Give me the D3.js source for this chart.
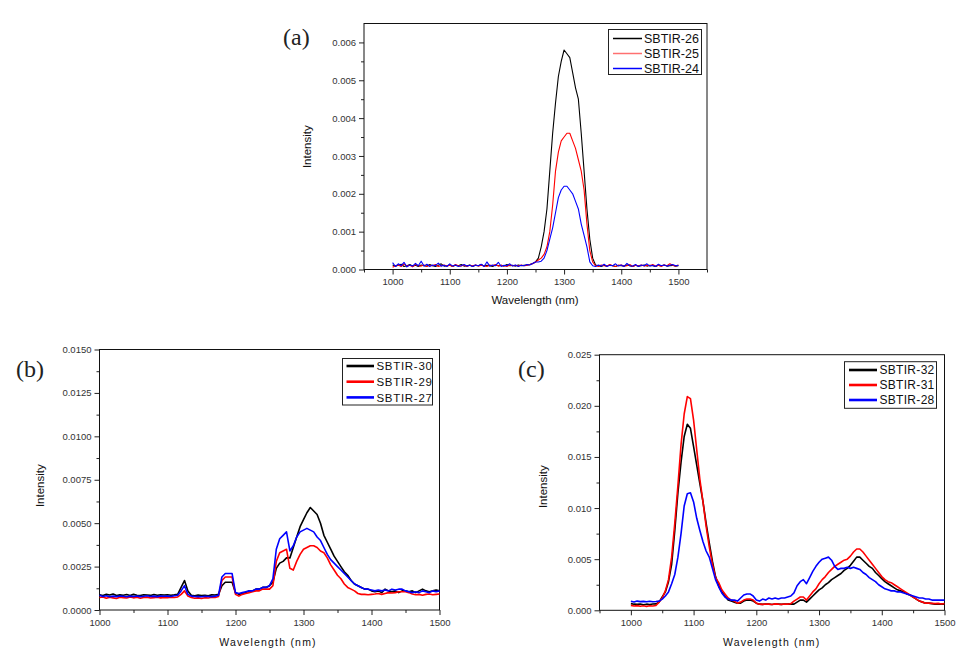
<!DOCTYPE html>
<html><head><meta charset="utf-8">
<script src="https://cdn.jsdelivr.net/npm/d3@7/dist/d3.min.js"></script>
<style>body{margin:0;background:#fff} svg{display:block}</style>
</head><body><svg id="chart" width="973" height="667"></svg>
<script>
// Wavelength sampling (nm), shared by every series
const wavelength = [1000,1005,1010,1015,1020,1025,1030,1035,1040,1045,
1050,1055,1060,1065,1070,1075,1080,1085,1090,1095,
1100,1105,1110,1115,1120,1125,1130,1135,1140,1145,
1150,1155,1160,1165,1170,1175,1180,1185,1190,1195,
1200,1205,1210,1215,1220,1225,1230,1235,1240,1245,
1250,1255,1260,1265,1270,1275,1280,1285,1290,1295,
1300,1305,1310,1315,1320,1325,1330,1335,1340,1345,
1350,1355,1360,1365,1370,1375,1380,1385,1390,1395,
1400,1405,1410,1415,1420,1425,1430,1435,1440,1445,
1450,1455,1460,1465,1470,1475,1480,1485,1490,1495,1500];

// ---- Panel (a) ----
const labelsA = ["SBTIR-26","SBTIR-25","SBTIR-24"];
const sbtir26 = [0.00012,0.00009,0.00011,0.00014,0.00008,0.00010,0.00013,0.00009,0.00011,0.00008,
0.00012,0.00010,0.00009,0.00013,0.00010,0.00008,0.00011,0.00015,0.00009,0.00010,
0.00012,0.00008,0.00011,0.00010,0.00013,0.00009,0.00010,0.00012,0.00008,0.00011,
0.00010,0.00013,0.00009,0.00011,0.00010,0.00008,0.00012,0.00010,0.00011,0.00009,
0.00013,0.00010,0.00011,0.00009,0.00012,0.00010,0.00011,0.00012,0.00013,0.00016,
0.0002,0.0003,0.0006,0.001,0.0016,0.0026,0.0036,0.0044,0.0051,0.0055,
0.0058,0.0057,0.0056,0.0052,0.0048,0.0045,0.0036,0.0026,0.0016,0.0008,
0.0003,0.00012,0.00010,0.00008,0.00011,0.00009,0.00012,0.00010,0.00008,0.00011,
0.00010,0.00009,0.00012,0.00010,0.00008,0.00011,0.00009,0.00010,0.00012,0.00009,
0.00011,0.00010,0.00008,0.00011,0.00010,0.00012,0.00009,0.00010,0.00011,0.00009,
0.00010];
const sbtir25 = [0.00006,0.00010,0.00012,0.00008,0.00015,0.00009,0.00011,0.00007,0.00013,0.00010,
0.00009,0.00012,0.00008,0.00011,0.00010,0.00013,0.00008,0.00010,0.00012,0.00009,
0.00011,0.00008,0.00013,0.00010,0.00009,0.00012,0.00008,0.00011,0.00010,0.00012,
0.00009,0.00011,0.00010,0.00008,0.00012,0.00010,0.00013,0.00009,0.00011,0.00010,
0.00008,0.00012,0.00010,0.00011,0.00009,0.00012,0.00010,0.00011,0.00013,0.00015,
0.0002,0.00025,0.0003,0.0004,0.0006,0.001,0.0017,0.0026,0.0031,0.0034,
0.0035,0.0036,0.0036,0.0034,0.0032,0.0029,0.0026,0.0021,0.0012,0.0005,
0.0002,0.0001,0.00008,0.00012,0.00010,0.00009,0.00013,0.00010,0.00008,0.00011,
0.00012,0.00009,0.00010,0.00013,0.00008,0.00011,0.00010,0.00012,0.00009,0.00011,
0.00010,0.00013,0.00009,0.00011,0.00008,0.00012,0.00010,0.00015,0.00011,0.00009,
0.00012];
const sbtir24 = [0.00018,0.00008,0.00015,0.00010,0.00019,0.00007,0.00012,0.00009,0.00016,0.00010,
0.00022,0.00009,0.00014,0.00008,0.00012,0.00010,0.00017,0.00009,0.00011,0.00008,
0.00015,0.00009,0.00012,0.00008,0.00010,0.00013,0.00009,0.00011,0.00008,0.00012,
0.00010,0.00014,0.00008,0.00020,0.00009,0.00012,0.00010,0.00019,0.00008,0.00011,
0.00010,0.00015,0.00009,0.00012,0.00008,0.00011,0.00010,0.00013,0.00012,0.00016,
0.0002,0.0002,0.00022,0.0003,0.0005,0.0008,0.0011,0.0015,0.0019,0.0021,
0.0022,0.0022,0.0021,0.0020,0.0018,0.0016,0.0012,0.0009,0.0006,0.0002,
0.0001,0.00008,0.00012,0.00009,0.00014,0.00008,0.00011,0.00010,0.00015,0.00009,
0.00012,0.00008,0.00016,0.00010,0.00009,0.00013,0.00008,0.00012,0.00010,0.00015,
0.00009,0.00011,0.00008,0.00014,0.00010,0.00012,0.00009,0.00011,0.00013,0.00010,
0.00011];
const yTicksA = [0,0.001,0.002,0.003,0.004,0.005,0.006];
const xTicksA = [1000,1100,1200,1300,1400,1500];

// ---- Panel (b) ----
const labelsB = ["SBTIR-30","SBTIR-29","SBTIR-27"];
const sbtir30 = [0.00088,0.00084,0.00090,0.00086,0.00092,0.00083,0.00087,0.00085,0.00089,0.00084,
0.00090,0.00085,0.00083,0.00088,0.00086,0.00084,0.00089,0.00085,0.00087,0.00086,
0.00088,0.00085,0.00087,0.00090,0.0013,0.0017,0.0011,0.00085,0.00082,0.00086,
0.00083,0.00085,0.00082,0.00087,0.00086,0.00090,0.0014,0.0016,0.0016,0.0016,
0.0010,0.0009,0.00095,0.0010,0.0011,0.0011,0.0012,0.0012,0.0013,0.0013,
0.0014,0.0016,0.0024,0.0027,0.0028,0.0030,0.0030,0.0036,0.0042,0.0048,
0.0052,0.0056,0.0059,0.0057,0.0055,0.0050,0.0043,0.0039,0.0035,0.0031,
0.0028,0.0025,0.0022,0.0020,0.0017,0.0015,0.0014,0.0013,0.0012,0.0012,
0.0011,0.00105,0.0011,0.0010,0.0012,0.0011,0.00105,0.0011,0.0010,0.0011,
0.0011,0.00105,0.0011,0.0010,0.0011,0.0012,0.0011,0.00105,0.0011,0.00115,
0.0011];
const sbtir29 = [0.00072,0.00075,0.00068,0.00074,0.00070,0.00066,0.00073,0.00071,0.00069,0.00075,
0.00070,0.00073,0.00068,0.00072,0.00074,0.00069,0.00071,0.00073,0.00070,0.00072,
0.00071,0.00074,0.00072,0.00075,0.0009,0.0011,0.0008,0.00072,0.00068,0.00070,
0.00066,0.00071,0.00069,0.00073,0.00072,0.00078,0.0017,0.0019,0.0019,0.0019,
0.0009,0.0008,0.0009,0.00095,0.0010,0.00105,0.0011,0.0011,0.0012,0.0012,
0.0012,0.0014,0.0028,0.0033,0.0034,0.0035,0.0024,0.0023,0.0028,0.0032,
0.0035,0.0036,0.0037,0.0037,0.0036,0.0034,0.0033,0.0030,0.0026,0.0023,
0.0020,0.0018,0.0015,0.0013,0.0012,0.0011,0.00095,0.0009,0.0009,0.00088,
0.0009,0.00092,0.00095,0.0009,0.00095,0.0010,0.00098,0.0010,0.00105,0.00105,
0.00105,0.0010,0.00092,0.00088,0.0009,0.00085,0.0009,0.00092,0.00088,0.0009,
0.00092];
const sbtir27 = [0.00085,0.00078,0.00082,0.00076,0.00080,0.00077,0.00081,0.00079,0.00076,0.00080,
0.00078,0.00081,0.00077,0.00079,0.00082,0.00078,0.00080,0.00077,0.00081,0.00079,
0.00080,0.00078,0.00082,0.00085,0.0011,0.0014,0.0009,0.00080,0.00078,0.00077,
0.00076,0.00079,0.00078,0.00077,0.00080,0.00085,0.0019,0.0021,0.0021,0.0021,
0.0010,0.00095,0.0010,0.00105,0.0011,0.0011,0.0012,0.0012,0.0013,0.0013,
0.0014,0.0018,0.0035,0.0041,0.0043,0.0045,0.0034,0.0037,0.0042,0.0045,
0.0046,0.0047,0.0046,0.0045,0.0042,0.0040,0.0036,0.0032,0.0029,0.0027,
0.0025,0.0023,0.0021,0.0019,0.0017,0.0015,0.0014,0.0013,0.0012,0.0012,
0.00115,0.0011,0.00115,0.0011,0.00115,0.0011,0.0012,0.00115,0.0012,0.0012,
0.0011,0.00105,0.0010,0.00105,0.0010,0.0011,0.00105,0.0010,0.0011,0.00105,
0.0011];
const yTicksB = [0,0.0025,0.005,0.0075,0.01,0.0125,0.015];
const xTicksB = [1000,1100,1200,1300,1400,1500];

// ---- Panel (c) ----
const labelsC = ["SBTIR-32","SBTIR-31","SBTIR-28"];
const sbtir32 = [0.00065,0.00060,0.00058,0.00062,0.00055,0.00060,0.00057,0.00061,0.00063,0.0008,
0.0013,0.0018,0.0028,0.0045,0.0078,0.0115,0.0145,0.0170,0.0182,0.0178,
0.0160,0.0142,0.0124,0.0106,0.0085,0.0066,0.0048,0.0033,0.0024,0.0018,
0.0014,0.0010,0.0009,0.0008,0.0007,0.0007,0.0009,0.0010,0.0010,0.0009,
0.0007,0.0006,0.00058,0.00062,0.0006,0.00057,0.00061,0.0006,0.00058,0.00062,
0.0006,0.00063,0.0006,0.0008,0.0010,0.0010,0.0008,0.0011,0.0014,0.0017,
0.0020,0.0022,0.0025,0.0027,0.0030,0.0032,0.0034,0.0036,0.0039,0.0041,
0.0044,0.0048,0.0052,0.0052,0.0049,0.0046,0.0043,0.0041,0.0037,0.0034,
0.0031,0.0028,0.0026,0.0024,0.0022,0.0020,0.0019,0.0018,0.0016,0.0015,
0.0013,0.0011,0.0009,0.0008,0.0007,0.0007,0.00065,0.0006,0.00062,0.0006,
0.0006];
const sbtir31 = [0.00048,0.00042,0.00046,0.00040,0.00044,0.00038,0.00045,0.00042,0.00047,0.0008,
0.0012,0.0019,0.0030,0.0052,0.0085,0.0122,0.0162,0.0192,0.0209,0.0207,
0.0186,0.0157,0.0128,0.0106,0.0082,0.0062,0.0045,0.0032,0.0027,0.0020,
0.0016,0.0012,0.0010,0.0009,0.0007,0.0008,0.0010,0.0011,0.0011,0.0010,
0.0007,0.0006,0.00058,0.00062,0.0006,0.00057,0.00063,0.0006,0.00058,0.00062,
0.0006,0.00065,0.0009,0.0011,0.0013,0.0013,0.0010,0.0014,0.0018,0.0021,
0.0026,0.0030,0.0033,0.0037,0.0040,0.0043,0.0045,0.0047,0.0049,0.0050,
0.0053,0.0057,0.0060,0.0060,0.0057,0.0053,0.0049,0.0045,0.0041,0.0037,
0.0033,0.0030,0.0028,0.0027,0.0025,0.0023,0.0021,0.0019,0.0017,0.0015,
0.0013,0.0011,0.0009,0.0008,0.0007,0.0007,0.00068,0.00065,0.00068,0.00062,
0.00065];
const sbtir28 = [0.00088,0.00082,0.00090,0.00085,0.00087,0.00083,0.00089,0.00084,0.00086,0.0009,
0.0011,0.0014,0.0018,0.0026,0.0035,0.0052,0.0075,0.0102,0.0114,0.0115,
0.0106,0.0090,0.0078,0.0067,0.0058,0.0052,0.0041,0.0030,0.0023,0.0017,
0.0013,0.0011,0.0010,0.0010,0.0009,0.0012,0.0015,0.0016,0.0016,0.0014,
0.0010,0.0009,0.0011,0.0010,0.0012,0.0011,0.0012,0.0011,0.0012,0.0012,
0.0013,0.0014,0.0017,0.0024,0.0028,0.0030,0.0026,0.0032,0.0038,0.0043,
0.0047,0.0050,0.0051,0.0052,0.0049,0.0043,0.0040,0.0041,0.0041,0.0042,
0.0041,0.0042,0.0041,0.0040,0.0037,0.0035,0.0032,0.0030,0.0028,0.0025,
0.0023,0.0021,0.0020,0.0019,0.0019,0.0018,0.0018,0.0017,0.0016,0.0015,
0.0014,0.0013,0.0012,0.0012,0.0011,0.0011,0.0010,0.0010,0.0010,0.0010,
0.0010];
const yTicksC = [0,0.005,0.01,0.015,0.02,0.025];
const xTicksC = [1000,1100,1200,1300,1400,1500];

const seriesColors = ["#000000","#ff0000","#0000ff"];

// ---- drawing ----
const svg = d3.select("#chart");
const panels = [
  {tag:"(a)", tagX:283, tagY:45, series:[sbtir26,sbtir25,sbtir24], labels:labelsA,
   xd:[950,1550], xr:[364,707], yd:[0,0.0065], yr:[269.5,23.5],
   xt:xTicksA, xm:[950,1050,1150,1250,1350,1450,1550], yt:yTicksA, yfmt:".3f", ystep:0.0005,
   lw:1.1, legLW:1.5, legColors:["#000","#ff7070","#0000ff"],
   leg:{x:608.5,y:29.5,w:93,h:45,l0:613,l1:642,tx:644,ty0:38.5,dy:15,fs:12.5,ls:0},
   ylab:[306.5,146.7], xlab:[535,300], xlabLS:0, yPad:3},
  {tag:"(b)", tagX:16, tagY:377, series:[sbtir30,sbtir29,sbtir27], labels:labelsB,
   xd:[1000,1500], xr:[99.5,439.5], yd:[0,0.015], yr:[610,349.5],
   xt:xTicksB, xm:[1050,1150,1250,1350,1450], yt:yTicksB, yfmt:".4f", ystep:0.00125,
   lw:1.6, legLW:2.6, legColors:seriesColors,
   leg:{x:342.5,y:358.5,w:90,h:46.5,l0:346.5,l1:374,tx:376.5,ty0:366,dy:15.7,fs:11.5,ls:0.7},
   ylab:[39.5,485.7], xlab:[268,642], xlabLS:1.2, yPad:3},
  {tag:"(c)", tagX:518, tagY:377, series:[sbtir32,sbtir31,sbtir28], labels:labelsC,
   xd:[950,1500], xr:[599.5,944.5], yd:[0,0.025], yr:[610.3,354.7],
   xt:xTicksC, xm:[950,1050,1150,1250,1350,1450], yt:yTicksC, yfmt:".3f", ystep:0.0025,
   lw:1.6, legLW:2.6, legColors:seriesColors,
   leg:{x:844.5,y:361.7,w:92,h:46.6,l0:849,l1:877,tx:879.5,ty0:370,dy:15,fs:12,ls:0.3},
   ylab:[542.7,486.7], xlab:[771.7,642], xlabLS:1.2, yPad:3}
];

panels.forEach(p => {
  const x = d3.scaleLinear().domain(p.xd).range(p.xr);
  const y = d3.scaleLinear().domain(p.yd).range(p.yr);
  const g = svg.append("g");

  // minor y ticks
  const yMinor = d3.range(p.ystep, p.yd[1] + 1e-9, p.ystep * 2).filter(v => v < p.yd[1] - 1e-9);
  g.append("g").attr("transform", `translate(${p.xr[0]},0)`)
    .call(d3.axisLeft(y).tickValues(yMinor).tickSize(3).tickFormat(""))
    .call(a => a.select(".domain").remove());
  g.append("g").attr("transform", `translate(0,${p.yr[0]})`)
    .call(d3.axisBottom(x).tickValues(p.xm).tickSize(3).tickFormat(""))
    .call(a => a.select(".domain").remove());

  // major axes
  const ya = g.append("g").attr("transform", `translate(${p.xr[0]},0)`)
    .call(d3.axisLeft(y).tickValues(p.yt).tickSize(5).tickPadding(p.yPad).tickFormat(d3.format(p.yfmt)));
  ya.select(".domain").remove();
  const xa = g.append("g").attr("transform", `translate(0,${p.yr[0]})`)
    .call(d3.axisBottom(x).tickValues(p.xt).tickSize(5).tickPadding(4).tickFormat(d3.format("d")));
  xa.select(".domain").remove();
  g.selectAll(".tick text").attr("font-family","Arial, 'Liberation Sans', sans-serif")
    .attr("font-size", 9.5).attr("fill","#333");
  g.selectAll(".tick line").attr("stroke","#222");

  // frame
  g.append("rect").attr("x", p.xr[0]).attr("y", p.yr[1])
    .attr("width", p.xr[1]-p.xr[0]).attr("height", p.yr[0]-p.yr[1])
    .attr("fill","none").attr("stroke","#111").attr("stroke-width",1);

  // lines
  const line = d3.line().x((d,i) => x(wavelength[i])).y(d => y(d));
  p.series.forEach((s, k) => {
    g.append("path").datum(s).attr("d", line)
      .attr("fill","none").attr("stroke", seriesColors[k])
      .attr("stroke-width", p.lw).attr("stroke-linejoin","round");
  });

  // legend
  const L = p.leg;
  g.append("rect").attr("x",L.x).attr("y",L.y).attr("width",L.w).attr("height",L.h)
    .attr("fill","#fff").attr("stroke","#222").attr("stroke-width",1);
  p.labels.forEach((lab,k) => {
    const yy = L.ty0 + k*L.dy;
    g.append("line").attr("x1",L.l0).attr("x2",L.l1).attr("y1",yy).attr("y2",yy)
      .attr("stroke",p.legColors[k]).attr("stroke-width",p.legLW);
    g.append("text").attr("x",L.tx).attr("y",yy).attr("dy","0.36em")
      .attr("font-family","Arial, 'Liberation Sans', sans-serif").attr("font-size",L.fs)
      .attr("letter-spacing",L.ls).attr("fill","#111").text(lab);
  });

  // axis titles
  g.append("text").attr("transform",`translate(${p.ylab[0]},${p.ylab[1]}) rotate(-90)`)
    .attr("text-anchor","middle").attr("dy","0.35em")
    .attr("font-family","Arial, 'Liberation Sans', sans-serif").attr("font-size",11.5)
    .attr("fill","#111").text("Intensity");
  g.append("text").attr("x",p.xlab[0]).attr("y",p.xlab[1]).attr("dy","0.35em")
    .attr("text-anchor","middle").attr("letter-spacing",p.xlabLS)
    .attr("font-family","Arial, 'Liberation Sans', sans-serif").attr("font-size",p.xlabLS ? 10.5 : 11.5)
    .attr("fill","#111").text("Wavelength (nm)");

  // panel tag
  g.append("text").attr("x",p.tagX).attr("y",p.tagY)
    .attr("font-family","'Liberation Serif','Times New Roman',serif").attr("font-size",24)
    .attr("fill","#222").text(p.tag);
});
</script></body></html>
